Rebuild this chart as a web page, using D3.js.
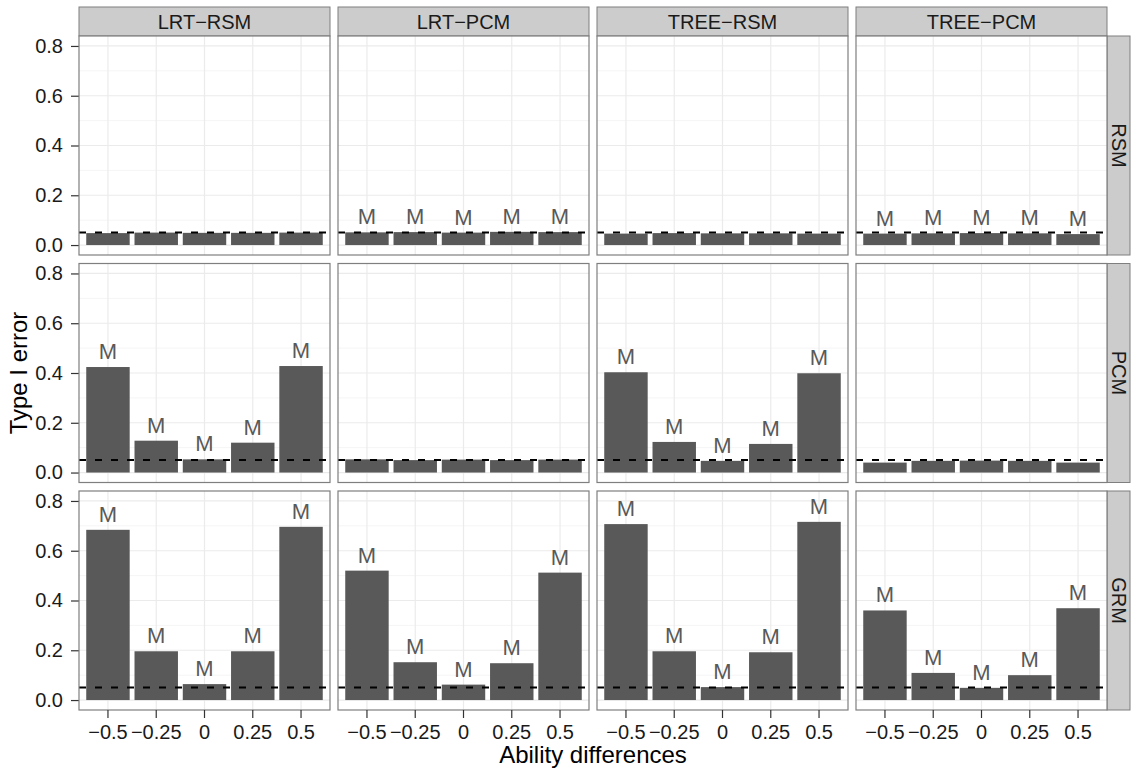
<!DOCTYPE html>
<html>
<head>
<meta charset="utf-8">
<script src="https://cdn.jsdelivr.net/npm/d3@7"></script>
<style>
  body { margin: 0; background: #fff; }
  svg { font-family: "Liberation Sans", Arial, sans-serif; }
</style>
</head>
<body>
<svg></svg>
<script>
// facet labels
const rowModels = ['RSM', 'PCM', 'GRM'];
const colMethods = ['LRT\u2212RSM', 'LRT\u2212PCM', 'TREE\u2212RSM', 'TREE\u2212PCM'];
const abilityDiffs = ['\u22120.5', '\u22120.25', '0', '0.25', '0.5'];
const yTicks = [0, 0.2, 0.4, 0.6, 0.8];
const yMinor = [0.1, 0.3, 0.5, 0.7];
const nominalAlpha = 0.05;

// type I error per panel, one array per column, rows in order RSM / PCM / GRM
const rsmRow = [
  [0.048, 0.050, 0.049, 0.049, 0.050],
  [0.051, 0.052, 0.050, 0.053, 0.052],
  [0.046, 0.048, 0.047, 0.047, 0.046],
  [0.046, 0.047, 0.048, 0.047, 0.044]
];
const pcmRow = [
  [0.424, 0.128, 0.053, 0.120, 0.428],
  [0.053, 0.050, 0.052, 0.050, 0.052],
  [0.403, 0.123, 0.047, 0.115, 0.399],
  [0.040, 0.047, 0.048, 0.047, 0.040]
];
const grmRow = [
  [0.684, 0.196, 0.064, 0.196, 0.696],
  [0.520, 0.152, 0.062, 0.148, 0.512],
  [0.707, 0.196, 0.052, 0.192, 0.716],
  [0.360, 0.109, 0.049, 0.100, 0.369]
];
// panels whose bars carry an "M" mark
const rsmMarked = [false, true, false, true];
const pcmMarked = [true, false, true, false];
const grmMarked = [true, true, true, true];

const values = [rsmRow, pcmRow, grmRow];
const marked = [rsmMarked, pcmMarked, grmMarked];

const W = 1131, H = 769;
const plotLeft = 79, plotTop = 36;
const panelW = 251, panelH = 219, gapX = 8, gapY = 8.5;
const stripH = 29, stripW = 23;
const tickFont = 20, stripFont = 20;

const svg = d3.select('svg').attr('width', W).attr('height', H);

const x = d3.scaleBand()
  .domain(abilityDiffs)
  .range([0, panelW])
  .paddingInner(0.1)
  .paddingOuter(0.15);

const y = d3.scaleLinear()
  .domain([-0.04, 0.84])
  .range([panelH, 0]);

colMethods.forEach((method, c) => {
  const px = plotLeft + c * (panelW + gapX);
  // top strip
  const strip = svg.append('g').attr('transform', `translate(${px},${plotTop - stripH})`);
  strip.append('rect').attr('width', panelW).attr('height', stripH)
    .attr('fill', '#cccccc').attr('stroke', '#7f7f7f').attr('stroke-width', 1);
  strip.append('text').attr('x', panelW / 2).attr('y', stripH / 2 + 7)
    .attr('text-anchor', 'middle').attr('font-size', stripFont).attr('fill', '#1a1a1a')
    .text(method);
});

rowModels.forEach((model, r) => {
  const py = plotTop + r * (panelH + gapY);

  // right strip
  const rs = svg.append('g').attr('transform', `translate(${plotLeft + 4 * panelW + 3 * gapX},${py})`);
  rs.append('rect').attr('width', stripW).attr('height', panelH)
    .attr('fill', '#cccccc').attr('stroke', '#7f7f7f').attr('stroke-width', 1);
  rs.append('text')
    .attr('transform', `translate(${stripW / 2 - 7},${panelH / 2}) rotate(90)`)
    .attr('text-anchor', 'middle').attr('font-size', stripFont).attr('fill', '#1a1a1a')
    .text(model);

  // y axis on first column
  const yAxis = svg.append('g').attr('transform', `translate(${plotLeft},${py})`)
    .call(d3.axisLeft(y).tickValues(yTicks).tickFormat(d3.format('.1f')).tickSize(8).tickPadding(8));
  yAxis.select('.domain').remove();
  yAxis.selectAll('line').attr('stroke', '#333').attr('stroke-width', 1.2);
  yAxis.selectAll('text').attr('font-size', tickFont).attr('fill', '#1a1a1a')
    .attr('font-family', '"Liberation Sans", Arial, sans-serif');

  colMethods.forEach((method, c) => {
    const px = plotLeft + c * (panelW + gapX);
    const g = svg.append('g').attr('transform', `translate(${px},${py})`);
    const data = values[r][c].map((v, i) => ({ key: abilityDiffs[i], v }));

    g.append('rect').attr('width', panelW).attr('height', panelH).attr('fill', '#fff');

    g.selectAll('.minor').data(yMinor).enter().append('line')
      .attr('x1', 0).attr('x2', panelW)
      .attr('y1', d => y(d)).attr('y2', d => y(d))
      .attr('stroke', '#f5f5f5').attr('stroke-width', 1);
    g.selectAll('.hmajor').data(yTicks).enter().append('line')
      .attr('x1', 0).attr('x2', panelW)
      .attr('y1', d => y(d)).attr('y2', d => y(d))
      .attr('stroke', '#ebebeb').attr('stroke-width', 1.2);
    g.selectAll('.vmajor').data(abilityDiffs).enter().append('line')
      .attr('x1', d => x(d) + x.bandwidth() / 2).attr('x2', d => x(d) + x.bandwidth() / 2)
      .attr('y1', 0).attr('y2', panelH)
      .attr('stroke', '#ebebeb').attr('stroke-width', 1.2);

    g.selectAll('.bar').data(data).enter().append('rect')
      .attr('x', d => x(d.key))
      .attr('width', x.bandwidth())
      .attr('y', d => y(d.v))
      .attr('height', d => y(0) - y(d.v))
      .attr('fill', '#595959');

    g.append('line')
      .attr('x1', 0).attr('x2', panelW)
      .attr('y1', y(nominalAlpha)).attr('y2', y(nominalAlpha))
      .attr('stroke', '#000').attr('stroke-width', 2)
      .attr('stroke-dasharray', '7,9');

    if (marked[r][c]) {
      g.selectAll('.mlab').data(data).enter().append('text')
        .attr('x', d => x(d.key) + x.bandwidth() / 2)
        .attr('y', d => y(d.v) - 8)
        .attr('text-anchor', 'middle').attr('font-size', 22).attr('fill', '#595959')
        .text('M');
    }

    g.append('rect').attr('width', panelW).attr('height', panelH)
      .attr('fill', 'none').attr('stroke', '#7f7f7f').attr('stroke-width', 1.2);

    if (r === rowModels.length - 1) {
      const xAxis = g.append('g').attr('transform', `translate(0,${panelH})`)
        .call(d3.axisBottom(x).tickSize(8).tickPadding(7));
      xAxis.select('.domain').remove();
      xAxis.selectAll('line').attr('stroke', '#333').attr('stroke-width', 1.2);
      xAxis.selectAll('text').attr('font-size', tickFont).attr('fill', '#1a1a1a')
        .attr('font-family', '"Liberation Sans", Arial, sans-serif');
    }
  });
});

const gridRight = plotLeft + 4 * panelW + 3 * gapX;
svg.append('text')
  .attr('x', (plotLeft + gridRight) / 2).attr('y', 763)
  .attr('text-anchor', 'middle').attr('font-size', 24).attr('fill', '#000')
  .text('Ability differences');

svg.append('text')
  .attr('transform', `translate(27,${plotTop + (3 * panelH + 2 * gapY) / 2}) rotate(-90)`)
  .attr('text-anchor', 'middle').attr('font-size', 24).attr('fill', '#000')
  .text('Type I error');
</script>
</body>
</html>
